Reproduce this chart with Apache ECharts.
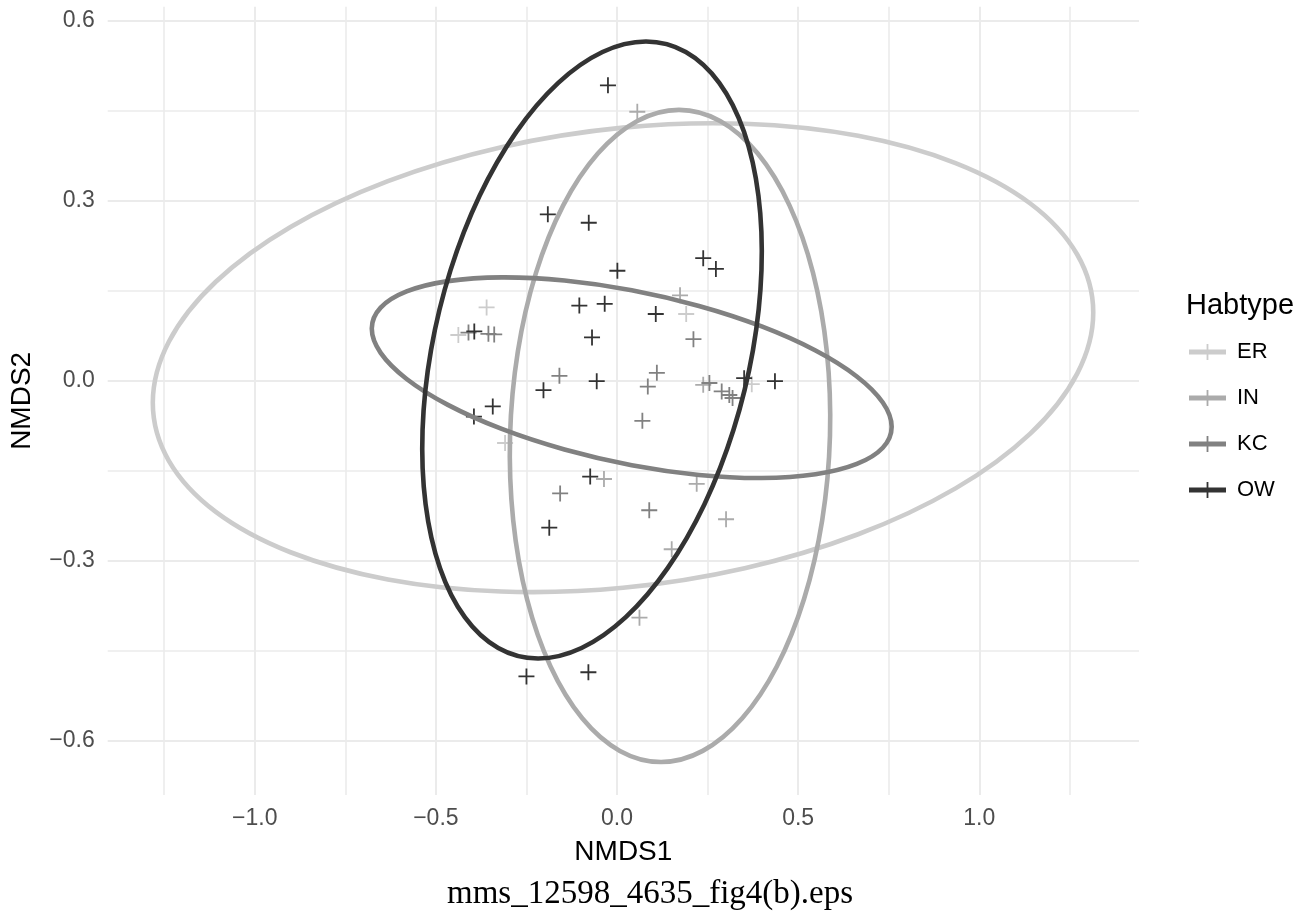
<!DOCTYPE html>
<html>
<head>
<meta charset="utf-8">
<script src="https://cdn.jsdelivr.net/npm/echarts@6/dist/echarts.min.js"></script>
<style>
html,body{margin:0;padding:0;background:#fff;}
#chart{width:1309px;height:917px;}
</style>
</head>
<body>
<div id="chart"></div>
<script>
// ---- data ----
const categories = ['ER', 'IN', 'KC', 'OW'];
const xTickValues = [-1, -0.5, 0, 0.5, 1];
const yTickValues = [-0.6, -0.3, 0, 0.3, 0.6];
const xMinorValues = [-1.25, -0.75, -0.25, 0.25, 0.75, 1.25];
const yMinorValues = [-0.45, -0.15, 0.15, 0.45];

const erPoints = [[-0.360,0.122],[-0.438,0.076],[0.191,0.111],[-0.309,-0.104],[0.372,-0.006]];
const inPoints = [[0.056,0.448],[0.174,0.142],[-0.036,-0.164],[0.301,-0.231],[0.151,-0.281],[0.062,-0.395],[0.238,-0.007],[0.220,-0.172]];
const kcPoints = [[-0.410,0.080],[-0.355,0.078],[-0.339,0.077],[0.211,0.069],[0.110,0.013],[0.085,-0.010],[0.255,-0.004],[0.289,-0.018],[0.310,-0.024],[0.319,-0.029],[-0.159,0.008],[0.070,-0.067],[-0.157,-0.188],[0.089,-0.216]];
const owPoints = [[-0.025,0.492],[-0.191,0.277],[-0.078,0.263],[0.001,0.183],[0.238,0.204],[0.273,0.186],[-0.104,0.125],[-0.034,0.128],[0.107,0.111],[-0.069,0.072],[-0.056,-0.001],[-0.203,-0.016],[-0.394,0.082],[0.351,0.004],[0.436,-0.001],[-0.343,-0.043],[-0.395,-0.060],[-0.074,-0.160],[-0.187,-0.245],[-0.250,-0.493],[-0.079,-0.486]];

// ellipse outlines (closed loops)
const erEllipse = [[1.3147,0.1135],[1.2704,0.2101],[1.1408,0.2951],[0.9345,0.3624],[0.6657,0.4078],[0.3526,0.4279],[0.0166,0.4215],[-0.3194,0.3889],[-0.6325,0.3324],[-0.9013,0.2560],[-1.1076,0.1647],[-1.2372,0.0647],[-1.2815,-0.0371],[-1.2372,-0.1337],[-1.1076,-0.2187],[-0.9013,-0.2860],[-0.6325,-0.3314],[-0.3194,-0.3515],[0.0166,-0.3451],[0.3526,-0.3125],[0.6657,-0.2560],[0.9345,-0.1796],[1.1408,-0.0883],[1.2704,0.0117]];
const inEllipse = [[0.5879,-0.0922],[0.5792,0.0484],[0.5411,0.1795],[0.4761,0.2920],[0.3886,0.3783],[0.2846,0.4326],[0.1711,0.4511],[0.0560,0.4326],[-0.0530,0.3783],[-0.1485,0.2920],[-0.2237,0.1795],[-0.2738,0.0484],[-0.2953,-0.0922],[-0.2866,-0.2328],[-0.2485,-0.3639],[-0.1835,-0.4764],[-0.0960,-0.5627],[0.0080,-0.6170],[0.1215,-0.6355],[0.2366,-0.6170],[0.3456,-0.5627],[0.4411,-0.4764],[0.5163,-0.3639],[0.5664,-0.2328]];
const kcEllipse = [[0.7582,-0.0770],[0.7337,-0.0365],[0.6620,0.0069],[0.5480,0.0501],[0.3994,0.0902],[0.2263,0.1244],[0.0406,0.1506],[-0.1451,0.1668],[-0.3182,0.1720],[-0.4668,0.1657],[-0.5808,0.1485],[-0.6525,0.1215],[-0.6770,0.0866],[-0.6525,0.0461],[-0.5808,0.0027],[-0.4668,-0.0405],[-0.3182,-0.0806],[-0.1451,-0.1148],[0.0406,-0.1410],[0.2263,-0.1572],[0.3994,-0.1624],[0.5480,-0.1561],[0.6620,-0.1389],[0.7337,-0.1119]];
const owEllipse = [[0.3754,0.0510],[0.3988,0.1840],[0.3904,0.3080],[0.3506,0.4145],[0.2822,0.4961],[0.1899,0.5475],[0.0800,0.5650],[-0.0401,0.5475],[-0.1622,0.4961],[-0.2778,0.4145],[-0.3794,0.3080],[-0.4596,0.1840],[-0.5134,0.0510],[-0.5368,-0.0820],[-0.5284,-0.2060],[-0.4886,-0.3125],[-0.4202,-0.3941],[-0.3279,-0.4455],[-0.2180,-0.4630],[-0.0979,-0.4455],[0.0242,-0.3941],[0.1398,-0.3125],[0.2414,-0.2060],[0.3216,-0.0820]];

const captionText = 'mms_12598_4635_fig4(b).eps';

// ---- styling ----
const colors = ['#cccccc', '#ababab', '#818181', '#333333'];
const pointSets = [erPoints, inPoints, kcPoints, owPoints];
const ellipseSets = [erEllipse, inEllipse, kcEllipse, owEllipse];
const crossPath = 'path://M0,7.1h16v1.8h-16z M7.1,0h1.8v16h-1.8z';
const legendIcon = 'path://M0,5.5h37v5h-37z M17.6,0h1.8v16h-1.8z';
const sansFont = '"Liberation Sans", Arial, Helvetica, sans-serif';
const fmt = v => v.toFixed(1).replace('-', '\u2212');

const chart = echarts.init(document.getElementById('chart'), null, {renderer: 'canvas'});

const series = [];
const gridLine = (v, key, w) => ({[key]: v, lineStyle: {color: '#ebebeb', width: w, type: 'solid'}});
series.push({
  type: 'scatter', name: '_grid', data: [], z: 1, silent: true,
  markLine: {
    z: 1, silent: true, symbol: ['none', 'none'], label: {show: false}, animation: false,
    emphasis: {disabled: true},
    data: [].concat(
      xMinorValues.map(v => gridLine(v, 'xAxis', 1.6)),
      yMinorValues.map(v => gridLine(v, 'yAxis', 1.6)),
      xTickValues.map(v => gridLine(v, 'xAxis', 2)),
      yTickValues.map(v => gridLine(v, 'yAxis', 2))
    )
  }
});
categories.forEach((c, i) => {
  series.push({
    type: 'scatter', name: c, data: pointSets[i], z: 2 + i * 0.01,
    symbol: crossPath, symbolSize: 16,
    itemStyle: {color: colors[i], opacity: 1},
    emphasis: {disabled: true}
  });
});
// ellipses: closed smooth outlines, positioned through the cartesian axes
categories.forEach((c, i) => {
  const outline = ellipseSets[i];
  series.push({
    type: 'custom', name: c, coordinateSystem: 'cartesian2d', z: 3 + i * 0.01,
    data: outline, silent: true,
    encode: {x: 0, y: 1},
    renderItem: (params, api) => {
      if (params.dataIndex !== 0) return null;
      const pts = outline.map(p => api.coord(p));
      return {
        type: 'polygon',
        shape: {points: pts, smooth: 0.34},
        style: {fill: 'none', stroke: colors[i], lineWidth: 4.6}
      };
    }
  });
});

const option = {
  animation: false,
  backgroundColor: '#ffffff',
  title: {
    text: 'Habtype', left: 1186, top: 291, padding: 0,
    textStyle: {fontFamily: sansFont, fontSize: 29, fontWeight: 'normal', color: '#000', lineHeight: 29}
  },
  legend: {
    orient: 'vertical', left: 1189, top: 340, padding: 0, itemGap: 22,
    itemWidth: 37, itemHeight: 16, selectedMode: false,
    data: categories.map((c, i) => ({name: c, icon: legendIcon, itemStyle: {color: colors[i]}})),
    textStyle: {fontFamily: sansFont, fontSize: 22, color: '#000', lineHeight: 24, padding: [0, 0, 0, 6]}
  },
  grid: {left: 107.7, right: 170, top: 6.7, bottom: 122, containLabel: false, outerBoundsMode: 'none'},
  xAxis: {
    type: 'value', min: -1.406, max: 1.441,
    name: 'NMDS1', nameLocation: 'middle', nameGap: 43,
    nameTextStyle: {fontFamily: sansFont, fontSize: 28, color: '#000', lineHeight: 28},
    axisLine: {show: false}, axisTick: {show: false}, splitLine: {show: false},
    axisLabel: {
      customValues: xTickValues, formatter: fmt, margin: 12,
      fontFamily: sansFont, fontSize: 23, color: '#4d4d4d', lineHeight: 23
    }
  },
  yAxis: {
    type: 'value', min: -0.6905, max: 0.623,
    name: 'NMDS2', nameLocation: 'middle', nameGap: 71,
    nameTextStyle: {fontFamily: sansFont, fontSize: 28, color: '#000', lineHeight: 28},
    axisLine: {show: false}, axisTick: {show: false}, splitLine: {show: false},
    axisLabel: {
      customValues: yTickValues, formatter: fmt, margin: 13,
      fontFamily: sansFont, fontSize: 23, color: '#4d4d4d', lineHeight: 23
    }
  },
  graphic: [{
    type: 'text', left: 447, top: 878,
    style: {text: captionText, font: '33px "Liberation Serif", "Times New Roman", serif', fill: '#000'},
    z: 10
  }],
  series: series
};
chart.setOption(option);
</script>
</body>
</html>
